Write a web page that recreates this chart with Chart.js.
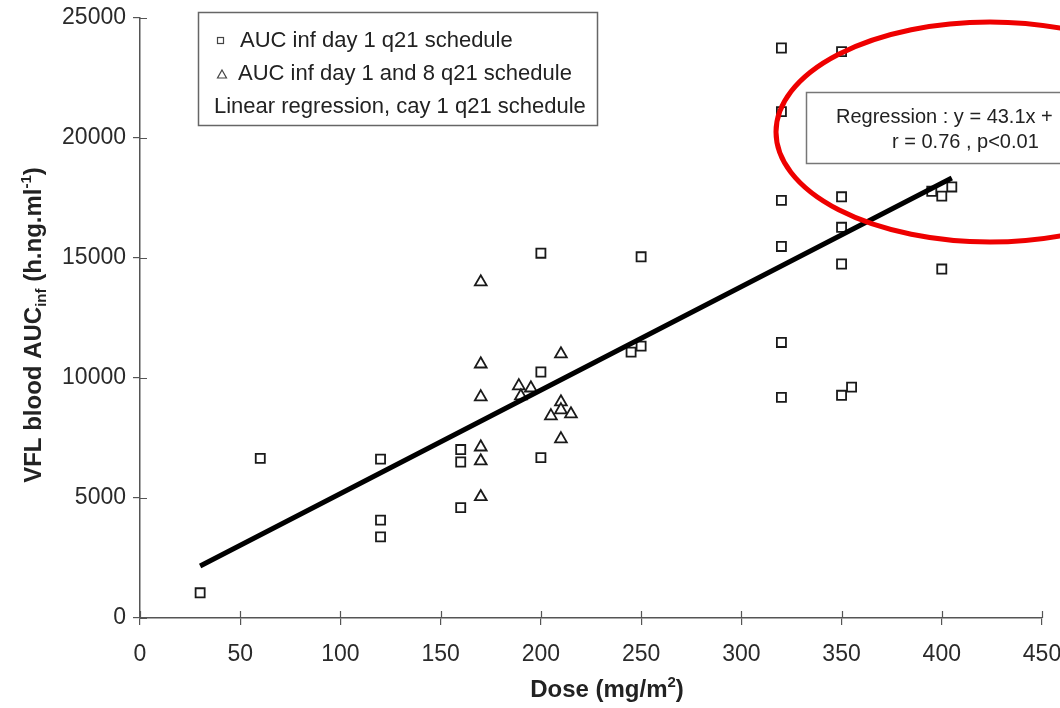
<!DOCTYPE html>
<html>
<head>
<meta charset="utf-8">
<script src="https://cdn.jsdelivr.net/npm/chart.js@4/dist/chart.umd.min.js"></script>
<style>
  html, body { margin: 0; padding: 0; background: #fff; }
  #wrap { position: relative; width: 1060px; height: 708px; }
</style>
</head>
<body>
<div id="wrap"><canvas id="doseChart" width="1060" height="708"></canvas></div>
<script>
// --- data: dose (mg/m2) vs VFL blood AUCinf (h.ng/ml) ---
const q21Dose = [30, 60, 120, 120, 120, 160, 160, 160, 200, 200, 200, 245, 250, 250,
  320, 320, 320, 320, 320, 320, 350, 350, 350, 350, 350, 355, 395, 400, 405, 400];
const q21Auc = [1050, 6650, 6620, 4080, 3380, 7020, 6500, 4600, 15200, 10250, 6680, 11080, 11330, 15050,
  23750, 21100, 17400, 15480, 11480, 9190, 23600, 17550, 16280, 14750, 9280, 9620, 17780, 17580, 17960, 14540];

const d18Dose = [170, 170, 170, 170, 170, 170, 189, 190, 195, 210, 210, 210, 205, 215, 210];
const d18Auc = [14000, 10580, 9210, 7120, 6540, 5050, 9670, 9250, 9580, 11000, 9000, 8670, 8420, 8500, 7460];

const regSlope = 43.1;
const regIntercept = 875;
const regDoseRange = [30, 405];

const xTicks = [0, 50, 100, 150, 200, 250, 300, 350, 400, 450];
const yTicks = [0, 5000, 10000, 15000, 20000, 25000];

const seriesLabels = ['AUC inf day 1 q21 schedule', 'AUC inf day 1 and 8 q21 schedule', 'Linear regression, cay 1 q21 schedule'];
const regText = ['Regression : y = 43.1x +', 'r = 0.76 , p<0.01'];

const FONT = '"Liberation Sans", Arial, sans-serif';
const INK = '#222';
const AXIS = '#555';

const toPoints = (xs, ys) => xs.map((x, i) => ({ x: x, y: ys[i] }));
const regLine = regDoseRange.map(x => ({ x: x, y: regSlope * x + regIntercept }));

// draws a row of text pieces (for sub/superscripts) centred on x
function drawRuns(ctx, runs, x, y) {
    let total = 0;
    runs.forEach(r => {
        ctx.font = `bold ${r.size}px ${FONT}`;
        r.w = ctx.measureText(r.text).width;
        total += r.w;
    });
    let cx = x - total / 2;
    ctx.textAlign = 'left';
    ctx.textBaseline = 'alphabetic';
    runs.forEach(r => {
        ctx.font = `bold ${r.size}px ${FONT}`;
        ctx.fillText(r.text, cx, y + r.dy);
        cx += r.w;
    });
}

const extrasPlugin = {
    id: 'extras',
    afterDraw(chart) {
        const ctx = chart.ctx;
        const xs = chart.scales.x, ys = chart.scales.y;
        ctx.save();

        // ticks also poke into the plot area
        ctx.strokeStyle = AXIS;
        ctx.lineWidth = 1.2;
        ctx.beginPath();
        xTicks.forEach(v => {
            const px = Math.round(xs.getPixelForValue(v)) + 0.5;
            ctx.moveTo(px, ys.bottom);
            ctx.lineTo(px, ys.bottom - 7);
        });
        yTicks.forEach(v => {
            const py = Math.round(ys.getPixelForValue(v)) + 0.5;
            ctx.moveTo(xs.left, py);
            ctx.lineTo(xs.left + 7, py);
        });
        ctx.stroke();

        // axis titles
        ctx.fillStyle = INK;
        drawRuns(ctx, [
            { text: 'Dose (mg/m', size: 24, dy: 0 },
            { text: '2', size: 15, dy: -10 },
            { text: ')', size: 24, dy: 0 }
        ], 607, 697);

        ctx.save();
        ctx.translate(41, 325);
        ctx.rotate(-Math.PI / 2);
        drawRuns(ctx, [
            { text: 'VFL blood AUC', size: 24, dy: 0 },
            { text: 'inf', size: 15, dy: 5 },
            { text: ' (h.ng.ml', size: 24, dy: 0 },
            { text: '-1', size: 15, dy: -10 },
            { text: ')', size: 24, dy: 0 }
        ], 0, 0);
        ctx.restore();

        // legend box
        ctx.fillStyle = '#fff';
        ctx.fillRect(198, 12, 399, 113);
        ctx.strokeStyle = '#666';
        ctx.lineWidth = 1.5;
        ctx.strokeRect(198.5, 12.5, 399, 113);

        ctx.strokeStyle = '#444';
        ctx.lineWidth = 1.2;
        ctx.strokeRect(217.5, 37.5, 6, 6);
        ctx.beginPath();
        ctx.moveTo(222, 70);
        ctx.lineTo(226.5, 78);
        ctx.lineTo(217.5, 78);
        ctx.closePath();
        ctx.stroke();

        ctx.fillStyle = INK;
        ctx.font = `22px ${FONT}`;
        ctx.textAlign = 'left';
        ctx.textBaseline = 'middle';
        ctx.fillText(seriesLabels[0], 240, 41);
        ctx.fillText(seriesLabels[1], 238, 74);
        ctx.fillText(seriesLabels[2], 214, 107);

        // regression note
        ctx.fillStyle = '#fff';
        ctx.fillRect(806, 92, 300, 71);
        ctx.strokeStyle = '#777';
        ctx.lineWidth = 1.5;
        ctx.strokeRect(806.5, 92.5, 300, 71);
        ctx.fillStyle = INK;
        ctx.font = `20px ${FONT}`;
        ctx.fillText(regText[0], 836, 117);
        ctx.fillText(regText[1], 892, 142);

        // red highlight ring
        ctx.strokeStyle = '#ee0000';
        ctx.lineWidth = 5;
        ctx.beginPath();
        ctx.ellipse(990, 132, 214, 110, 0, 0, Math.PI * 2);
        ctx.stroke();

        ctx.restore();
    }
};

const ctx = document.getElementById('doseChart').getContext('2d');
new Chart(ctx, {
    type: 'scatter',
    data: {
        datasets: [
            {
                label: seriesLabels[2],
                type: 'line',
                data: regLine,
                borderColor: '#000',
                borderWidth: 5,
                pointRadius: 0,
                fill: false
            },
            {
                label: seriesLabels[0],
                data: toPoints(q21Dose, q21Auc),
                pointStyle: 'rect',
                pointRadius: 6.4,
                pointBorderWidth: 1.8,
                pointBorderColor: '#1a1a1a',
                pointBackgroundColor: '#fff'
            },
            {
                label: seriesLabels[1],
                data: toPoints(d18Dose, d18Auc),
                pointStyle: 'triangle',
                pointRadius: 6.8,
                pointBorderWidth: 1.8,
                pointBorderColor: '#1a1a1a',
                pointBackgroundColor: '#fff'
            }
        ]
    },
    options: {
        responsive: false,
        animation: false,
        devicePixelRatio: 1,
        layout: { padding: { top: 18, right: 18, left: 0, bottom: 0 } },
        plugins: {
            legend: { display: false },
            tooltip: { enabled: false }
        },
        scales: {
            x: {
                type: 'linear',
                min: 0,
                max: 450,
                afterBuildTicks: s => { s.ticks = xTicks.map(v => ({ value: v })); },
                afterFit: s => { s.height = 90; s.paddingRight = 0; s.paddingLeft = 0; },
                grid: { drawOnChartArea: false, tickLength: 7, color: AXIS, lineWidth: 1.2 },
                border: { color: AXIS, width: 1.5 },
                ticks: {
                    color: '#2a2a2a',
                    padding: 16,
                    font: { family: FONT, size: 23 },
                    callback: v => String(v)
                }
            },
            y: {
                type: 'linear',
                min: 0,
                max: 25000,
                afterBuildTicks: s => { s.ticks = yTicks.map(v => ({ value: v })); },
                afterFit: s => { s.width = 140; s.paddingTop = 0; s.paddingBottom = 0; },
                grid: { drawOnChartArea: false, tickLength: 7, color: AXIS, lineWidth: 1.2 },
                border: { color: AXIS, width: 1.5 },
                ticks: {
                    color: '#2a2a2a',
                    padding: 7,
                    font: { family: FONT, size: 23 },
                    callback: v => String(v)
                }
            }
        }
    },
    plugins: [extrasPlugin]
});
</script>
</body>
</html>
